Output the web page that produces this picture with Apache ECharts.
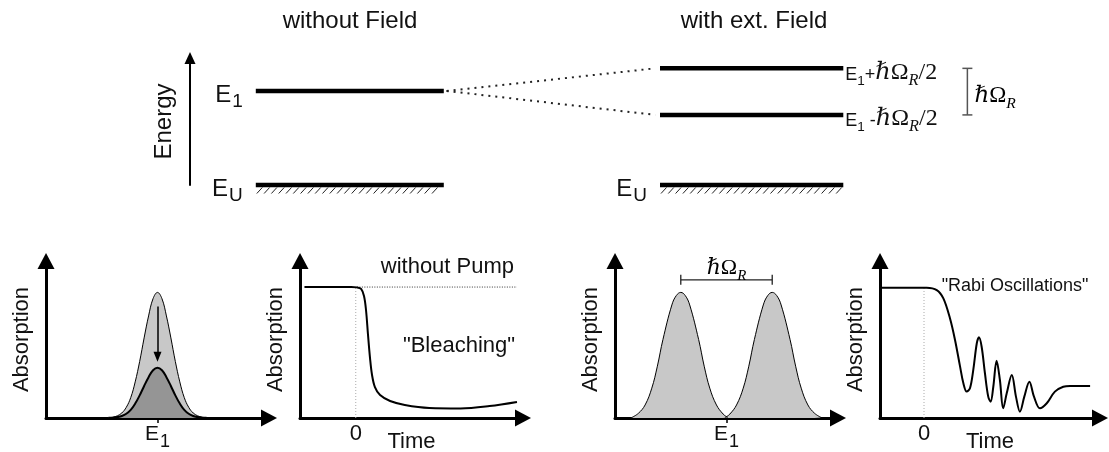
<!DOCTYPE html>
<html>
<head>
<meta charset="utf-8">
<script src="https://cdn.jsdelivr.net/npm/echarts@6/dist/echarts.min.js"></script>
<style>
  html, body { margin: 0; padding: 0; background: #fff; }
  #chart { width: 1109px; height: 452px; }
</style>
</head>
<body>
<div id="chart"></div>
<script>
// ---------- energy level scheme (energies in units of E1 - EU) ----------
const groundEnergy = 0;
const excitedEnergy = 1;
const dressedEnergies = [1.24, 0.745];      // E1 + hbar*OmegaR/2, E1 - hbar*OmegaR/2
const bareSpan = [0.7, 2.7];                // extent of the levels without field
const dressedSpan = [5.0, 6.95];            // extent of the levels with field
const fanX = [2.73, 4.95];                  // dotted connection E1 -> split levels
const splitMarkX = 8.27;                    // position of the splitting bracket

// ---------- absorption spectra ----------
const specX      = [28, 30, 32, 34, 36, 38, 40, 42, 44, 46, 48, 50, 52, 54, 56, 58, 60, 62, 64, 66, 68, 70, 72];
const specBefore = [0.2, 0.5, 1.4, 3.2, 6.8, 13, 23, 36, 51, 65, 76, 80, 76, 65, 51, 36, 23, 13, 6.8, 3.2, 1.4, 0.5, 0.2];
const specAfter  = [0.1, 0.2, 0.6, 1.3, 2.7, 5.2, 9.2, 14.4, 20.4, 26, 30.4, 32, 30.4, 26, 20.4, 14.4, 9.2, 5.2, 2.7, 1.3, 0.6, 0.2, 0.1];
const bleachArrow = [71, 39];               // absorption before -> after pumping

const doubletXLow  = [7.5, 10.5, 13.5, 16.5, 19, 21.5, 25.5, 27.5, 29.5, 31.5, 33.5, 37.5, 40, 42.5, 45.5, 48.5, 50.5];
const doubletLow   = [0.3, 3, 8.3, 19, 33, 50, 72, 78, 80, 78, 72, 50, 33, 19, 8.3, 2.5, 0.3];
const doubletXHigh = [49.5, 51.5, 54.5, 57.5, 60, 62.5, 66.5, 68.5, 70.5, 72.5, 74.5, 78.5, 81, 83.5, 86.5, 89.5, 92.5];
const doubletHigh  = [0.3, 2.5, 8.3, 19, 33, 50, 72, 78, 80, 78, 72, 50, 33, 19, 8.3, 3, 0.3];
const doubletBracket = [29.5, 70.5, 88];    // peak-to-peak distance hbar*OmegaR

// ---------- transient absorption ----------
const bleachT = [-23, -2, 0.5, 2.4, 3.7, 4.6, 5.5, 6.4, 7.3, 8.6, 10.9, 15.4, 22, 33, 47, 60, 72.3];
const bleachA = [83.4, 83.4, 83.2, 82.2, 77.7, 68.8, 52.9, 38.2, 27.4, 19.7, 14.6, 10.8, 8.3, 6.4, 6.1, 7.6, 10.2];
const unpumpedT = [0.5, 72.3];

const rabiT = [-19.2, 1.2, 5.8, 8.8, 11.8, 14.1, 16.4, 17.9, 19.4, 20.9, 22.4, 24.0, 25.0, 26.2, 27.7, 29.2, 30.3,
               31.5, 33.0, 34.5, 36.0, 37.6, 39.9, 41.8, 43.6, 45.6, 47.9, 50.0, 52.7, 55.8, 59.5, 63.3, 66.4, 75.5];
const rabiA = [83.0, 83.0, 81.5, 76.2, 63.5, 49.7, 32.7, 22.1, 16.8, 18.9, 30.6, 47.6, 51.4, 45.4, 28.5, 13.6, 10.4,
               19.9, 36.5, 24.2, 6.2, 15.7, 27.4, 13.6, 4.0, 13.6, 23.1, 13.6, 6.2, 9.4, 16.8, 19.9, 20.4, 20.4];

// ---------- text ----------
const titles = ['without Field', 'with ext. Field'];
const axisNames = { energy: 'Energy', absorption: 'Absorption', time: 'Time' };
const plotNotes = ['without Pump', '"Bleaching"', '"Rabi Oscillations"'];

// ---------- styling helpers ----------
const SANS = '"Liberation Sans", Arial, Helvetica, sans-serif';
const SERIF = '"Liberation Serif", "DejaVu Serif", serif';
const INK = '#111';

// Rich-text token styles sharing one baseline; tokens with `drop` are set as subscripts.
function baselineRich(defs, centered) {
  const list = Object.keys(defs).map(k => defs[k]);
  const drop = d => d.drop || 0;
  const S = Math.max.apply(null, list.filter(d => !d.drop).map(d => d.size));
  let B = Math.max.apply(null, list.map(d => 0.85 * d.size - drop(d)));
  if (centered) B = Math.max(B, 0.7 * S + Math.max.apply(null, list.map(d => drop(d) + 0.15 * d.size)));
  let L = Math.max.apply(null, list.map(d => B + drop(d) + 0.15 * d.size));
  if (centered) L = 2 * (B - 0.35 * S);
  const rich = {};
  Object.keys(defs).forEach(k => {
    const d = defs[k];
    const top = B + drop(d) - 0.85 * d.size;
    rich[k] = {
      fontFamily: d.family, fontSize: d.size, fontStyle: d.italic ? 'italic' : 'normal',
      color: INK, lineHeight: d.size, verticalAlign: 'top',
      padding: [top, 0, Math.max(0, L - top - d.size), d.left || 0]
    };
  });
  return rich;
}
function levelRich(size, sub, dropBy, centered) {
  return baselineRich({
    e: { family: SANS, size: size },
    s: { family: SANS, size: sub, drop: dropBy, left: 1 }
  }, centered);
}
function mathRich(sans, serif) {
  return baselineRich({
    e: { family: SANS, size: sans },
    s: { family: SANS, size: sans * 0.75, drop: sans * 0.25 },
    h: { family: SERIF, size: serif, italic: true },
    o: { family: SERIF, size: serif },
    r: { family: SERIF, size: serif * 0.68, drop: serif * 0.22, italic: true }
  }, true);
}
const HBAR_OMEGA = '{h|\u210F}{o|\u03A9}{r|R}';

const pairs = (xs, ys) => xs.map((x, i) => [x, ys[i]]);

function curve(g, data, extra) {
  return Object.assign({
    type: 'line', xAxisIndex: g, yAxisIndex: g, data: data,
    symbol: 'none', silent: true, clip: false,
    lineStyle: { color: '#000', width: 2 }
  }, extra);
}
function textSeries(g, points, texts, style) {
  return {
    type: 'scatter', xAxisIndex: g, yAxisIndex: g, data: points,
    symbolSize: 0, silent: true, clip: false,
    itemStyle: { opacity: 1 },
    label: Object.assign({
      show: true, position: 'inside', color: INK, opacity: 1, fontFamily: SANS,
      formatter: p => texts[p.dataIndex]
    }, style)
  };
}

// hatched ground state
function renderHatch(params, api) {
  const a = api.coord([api.value(0), api.value(2)]);
  const b = api.coord([api.value(1), api.value(2)]);
  const children = [];
  for (let x = a[0] + 1; x < b[0] - 5; x += 7.3) {
    children.push({ type: 'line', shape: { x1: x, y1: a[1] + 8.5, x2: x + 5.5, y2: a[1] + 2.5 },
                    style: { stroke: '#222', lineWidth: 1 } });
  }
  return { type: 'group', children: children };
}
// vertical splitting bracket with label
function renderVBracket(params, api) {
  const p0 = api.coord([api.value(0), api.value(1)]);
  const p1 = api.coord([api.value(0), api.value(2)]);
  const c = 5, st = { stroke: '#555', lineWidth: 1.5 };
  return { type: 'group', children: [
    { type: 'line', shape: { x1: p0[0], y1: p0[1], x2: p1[0], y2: p1[1] }, style: st },
    { type: 'line', shape: { x1: p0[0] - c, y1: p0[1], x2: p0[0] + c, y2: p0[1] }, style: st },
    { type: 'line', shape: { x1: p1[0] - c, y1: p1[1], x2: p1[0] + c, y2: p1[1] }, style: st },
    { type: 'text', x: p0[0] + 7, y: (p0[1] + p1[1]) / 2,
      style: { text: HBAR_OMEGA, rich: mathRich(16, 23), align: 'left', verticalAlign: 'middle' } }
  ] };
}
// horizontal peak-distance bracket with label
function renderHBracket(params, api) {
  const a = api.coord([api.value(0), api.value(2)]);
  const b = api.coord([api.value(1), api.value(2)]);
  const c = 5, st = { stroke: '#222', lineWidth: 1.3 };
  return { type: 'group', children: [
    { type: 'line', shape: { x1: a[0], y1: a[1], x2: b[0], y2: b[1] }, style: st },
    { type: 'line', shape: { x1: a[0], y1: a[1] - c, x2: a[0], y2: a[1] + c }, style: st },
    { type: 'line', shape: { x1: b[0], y1: b[1] - c, x2: b[0], y2: b[1] + c }, style: st },
    { type: 'text', x: (a[0] + b[0]) / 2, y: a[1] - 15,
      style: { text: HBAR_OMEGA, rich: mathRich(16, 22), align: 'center', verticalAlign: 'middle' } }
  ] };
}

// ---------- axes ----------
const arrowLine = (w, size) => ({
  show: true, onZero: false, symbol: ['none', 'triangle'], symbolSize: size,
  lineStyle: { color: '#000', width: w }
});
function plotX(g, min, max, extra) {
  return Object.assign({
    type: 'value', gridIndex: g, min: min, max: max,
    axisLine: arrowLine(3, [17, 16]),
    splitLine: { show: false }, axisTick: { show: false }, axisLabel: { show: false }
  }, extra);
}
function plotY(g) {
  return {
    type: 'value', gridIndex: g, min: 0, max: 100,
    axisLine: arrowLine(3, [17, 16]),
    splitLine: { show: false }, axisTick: { show: false }, axisLabel: { show: false },
    name: axisNames.absorption, nameLocation: 'middle', nameRotate: 90, nameGap: 13, nameMoveOverlap: false,
    nameTextStyle: { fontFamily: SANS, fontSize: 22, color: INK }
  };
}
const energyTick = {
  axisTick: { show: true, customValues: [50], length: 5, lineStyle: { color: '#000', width: 1.5 } },
  axisLabel: { show: true, customValues: [50], margin: 6, formatter: () => '{e|E}{s|1}', rich: levelRich(21, 18, 6, false) }
};
const timeAxis = {
  axisLabel: { show: true, customValues: [0], margin: 5, fontFamily: SANS, fontSize: 22, color: INK },
  name: axisNames.time, nameLocation: 'middle', nameGap: 13, nameMoveOverlap: false,
  nameTextStyle: { fontFamily: SANS, fontSize: 22, color: INK }
};

const gridBase = { outerBoundsMode: 'none', containLabel: false };

const option = {
  animation: false,
  backgroundColor: '#fff',
  title: [
    { text: titles[0], left: 350, top: 9, textAlign: 'center', padding: 0,
      textStyle: { fontFamily: SANS, fontSize: 24, fontWeight: 'normal', color: INK } },
    { text: titles[1], left: 754, top: 9, textAlign: 'center', padding: 0,
      textStyle: { fontFamily: SANS, fontSize: 24, fontWeight: 'normal', color: INK } }
  ],
  grid: [
    Object.assign({ left: 190, top: 58, width: 846, height: 127 }, gridBase),
    Object.assign({ left: 46, top: 261, width: 223, height: 157 }, gridBase),
    Object.assign({ left: 300, top: 261, width: 223, height: 157 }, gridBase),
    Object.assign({ left: 615, top: 261, width: 223, height: 157 }, gridBase),
    Object.assign({ left: 880, top: 261, width: 220, height: 157 }, gridBase)
  ],
  xAxis: [
    { type: 'value', gridIndex: 0, min: 0, max: 9, show: false },
    plotX(1, 0, 100, energyTick),
    plotX(2, -25, 75, timeAxis),
    plotX(3, 0, 100, energyTick),
    plotX(4, -20, 80, timeAxis)
  ],
  yAxis: [
    { type: 'value', gridIndex: 0, min: 0, max: 1.35,
      axisLine: arrowLine(2, [11, 12]),
      splitLine: { show: false }, axisTick: { show: false }, axisLabel: { show: false },
      name: axisNames.energy, nameLocation: 'middle', nameRotate: 90, nameGap: 14, nameMoveOverlap: false,
      nameTextStyle: { fontFamily: SANS, fontSize: 24, color: INK } },
    plotY(1), plotY(2), plotY(3), plotY(4)
  ],
  series: [
    // ----- level scheme -----
    curve(0, [[bareSpan[0], excitedEnergy], [bareSpan[1], excitedEnergy]], { lineStyle: { color: '#000', width: 4.5 } }),
    curve(0, [[bareSpan[0], groundEnergy], [bareSpan[1], groundEnergy]], { lineStyle: { color: '#000', width: 4.5 } }),
    curve(0, [[dressedSpan[0], groundEnergy], [dressedSpan[1], groundEnergy]], { lineStyle: { color: '#000', width: 4.5 } }),
    curve(0, [[dressedSpan[0], dressedEnergies[0]], [dressedSpan[1], dressedEnergies[0]]], { lineStyle: { color: '#000', width: 4.5 } }),
    curve(0, [[dressedSpan[0], dressedEnergies[1]], [dressedSpan[1], dressedEnergies[1]]], { lineStyle: { color: '#000', width: 4.5 } }),
    curve(0, [[fanX[0], excitedEnergy], [fanX[1], dressedEnergies[0]]], { lineStyle: { color: '#222', width: 2, type: [2, 5] } }),
    curve(0, [[fanX[0], excitedEnergy], [fanX[1], dressedEnergies[1]]], { lineStyle: { color: '#222', width: 2, type: [2, 5] } }),
    {
      type: 'custom', xAxisIndex: 0, yAxisIndex: 0, silent: true,
      data: [[bareSpan[0], bareSpan[1], groundEnergy], [dressedSpan[0], dressedSpan[1], groundEnergy]],
      encode: { x: [0, 1], y: 2 }, renderItem: renderHatch
    },
    {
      type: 'custom', xAxisIndex: 0, yAxisIndex: 0, silent: true,
      data: [[splitMarkX, dressedEnergies[0], dressedEnergies[1]]],
      encode: { x: 0, y: [1, 2] }, renderItem: renderVBracket
    },
    textSeries(0,
      [[bareSpan[0], excitedEnergy], [bareSpan[0], groundEnergy], [dressedSpan[0], groundEnergy]],
      ['{e|E}{s|1}', '{e|E}{s|U}', '{e|E}{s|U}'],
      { position: 'left', distance: 13, rich: levelRich(24, 19, 5, true) }),
    textSeries(0,
      [[dressedSpan[1], dressedEnergies[0]], [dressedSpan[1], dressedEnergies[1]]],
      ['{e|E}{s|1}{e|+}' + HBAR_OMEGA + '{o|/2}', '{e|E}{s|1}{e| -}' + HBAR_OMEGA + '{o|/2}'],
      { position: 'right', distance: 2, rich: mathRich(18, 24) }),

    // ----- absorption without field: bleaching of the line -----
    curve(1, pairs(specX, specBefore), {
      smooth: 0.4, lineStyle: { color: '#000', width: 1 }, areaStyle: { color: '#c8c8c8', opacity: 1 }
    }),
    curve(1, pairs(specX, specAfter), {
      smooth: 0.4, lineStyle: { color: '#000', width: 2 }, areaStyle: { color: '#959595', opacity: 1 },
      markLine: {
        silent: true, animation: false, symbol: ['none', 'triangle'], symbolSize: [8, 10],
        label: { show: false }, emphasis: { disabled: true },
        lineStyle: { color: '#000', width: 1.5, type: 'solid' },
        data: [[{ coord: [50, bleachArrow[0]] }, { coord: [50, bleachArrow[1]] }]]
      }
    }),

    // ----- transient absorption without field -----
    curve(2, [[0, 0], [0, bleachA[0]]], { lineStyle: { color: '#aaa', width: 1, type: [1, 2] } }),
    curve(2, [[unpumpedT[0], bleachA[0]], [unpumpedT[1], bleachA[0]]], { lineStyle: { color: '#333', width: 1, type: [1, 1.5] } }),
    curve(2, pairs(bleachT, bleachA), { smooth: 0.35, lineStyle: { color: '#000', width: 2 } }),
    textSeries(2, [[41.1, 96.5], [46.3, 46.2]], [plotNotes[0], plotNotes[1]], { fontSize: 22 }),

    // ----- absorption with field: split line -----
    curve(3, pairs(doubletXLow, doubletLow), {
      smooth: 0.4, lineStyle: { color: '#000', width: 1 }, areaStyle: { color: '#c8c8c8', opacity: 1 }
    }),
    curve(3, pairs(doubletXHigh, doubletHigh), {
      smooth: 0.4, lineStyle: { color: '#000', width: 1 }, areaStyle: { color: '#c8c8c8', opacity: 1 }
    }),
    {
      type: 'custom', xAxisIndex: 3, yAxisIndex: 3, silent: true,
      data: [doubletBracket], encode: { x: [0, 1], y: 2 }, renderItem: renderHBracket
    },

    // ----- transient absorption with field -----
    curve(4, [[0, 0], [0, rabiA[0]]], { lineStyle: { color: '#aaa', width: 1, type: [1, 2] } }),
    curve(4, pairs(rabiT, rabiA), { smooth: 0.35, lineStyle: { color: '#000', width: 2 } }),
    textSeries(4, [[41.4, 84]], [plotNotes[2]], { fontSize: 18 })
  ]
};

const chart = echarts.init(document.getElementById('chart'), null, { renderer: 'canvas' });
chart.setOption(option);
</script>
</body>
</html>
